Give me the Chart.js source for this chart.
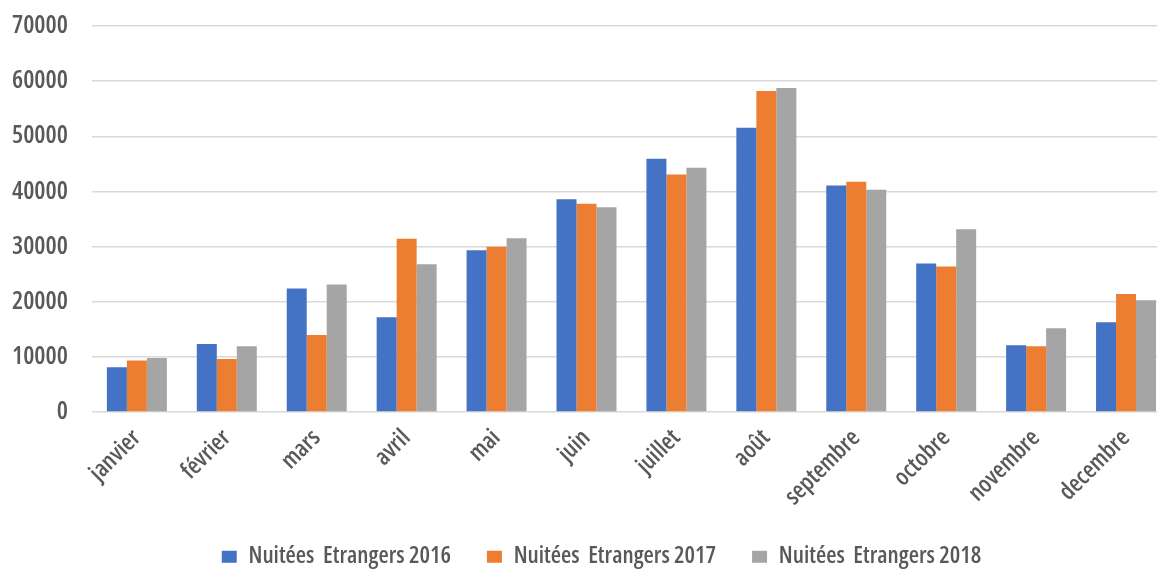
<!DOCTYPE html>
<html><head><meta charset="utf-8">
<script src="https://cdn.jsdelivr.net/npm/chart.js@4/dist/chart.umd.min.js"></script>
<style>html,body{margin:0;padding:0;overflow:hidden;background:#fff}#wrap{width:1204px;height:571px}</style>
</head><body><div id="wrap"><canvas id="c" width="1204" height="571"></canvas></div>
<script>
const categories = ["janvier","février","mars","avril","mai","juin","juillet","août","septembre","octobre","novembre","decembre"];
const seriesNames = ["Nuitées  Etrangers 2016","Nuitées  Etrangers 2017","Nuitées  Etrangers 2018"];
const values2016 = [8100,12340,22400,17190,29350,38600,45920,51540,41090,26930,12100,16280];
const values2017 = [9330,9620,13970,31400,29950,37750,43080,58200,41740,26390,11920,21420];
const values2018 = [9800,11920,23120,26800,31520,37150,44290,58750,40290,33160,15190,20270];
const yTicks = [0,10000,20000,30000,40000,50000,60000,70000];
const colors = ["#4472C4","#ED7D31","#A5A5A5"];
const FAMILY = "'Open Sans'";
const WEIGHT = "600 condensed";
const data = {
  labels: categories,
  datasets: [values2016, values2017, values2018].map((v,i)=>({
    label: seriesNames[i], data: v, backgroundColor: colors[i],
    borderWidth: 0, categoryPercentage: 0.667, barPercentage: 1.0
  }))
};
const legendShift = {
  id: 'legendShift',
  afterLayout(chart) { if (chart.legend) { chart.legend.left += 22; chart.legend.right += 22; } }
};
new Chart(document.getElementById('c'), {
  type: 'bar', data, plugins: [legendShift],
  options: {
    responsive: false, animation: false,
    layout: { padding: { left: -12, right: 33, top: 0, bottom: 0 } },
    plugins: {
      tooltip: { enabled: false },
      legend: { position: 'bottom', maxHeight: 62,
        labels: { boxWidth: 15, boxHeight: 12, padding: 36, color: '#595959',
          font: { family: FAMILY, weight: WEIGHT, size: 23.5 } } }
    },
    scales: {
      x: { grid: { display: false, drawTicks: false }, border: { display: false },
        afterFit: s => { s.height = 97; },
        ticks: { minRotation: 45, maxRotation: 45, color: '#595959', padding: 12,
          font: { family: FAMILY, weight: WEIGHT, size: 24 } } },
      y: { min: 0, max: 70000, afterBuildTicks: ax => { ax.ticks = yTicks.map(v=>({value:v})); },
        afterFit: s => { s.paddingTop = 26; s.paddingBottom = 0; },
        grid: { color: '#d9d9d9', lineWidth: 1.5, drawTicks: false }, border: { display: false },
        ticks: { color: '#595959', padding: 24, callback: v => String(v),
          font: { family: FAMILY, weight: WEIGHT, size: 25 } } }
    }
  }
});
</script></body></html>
